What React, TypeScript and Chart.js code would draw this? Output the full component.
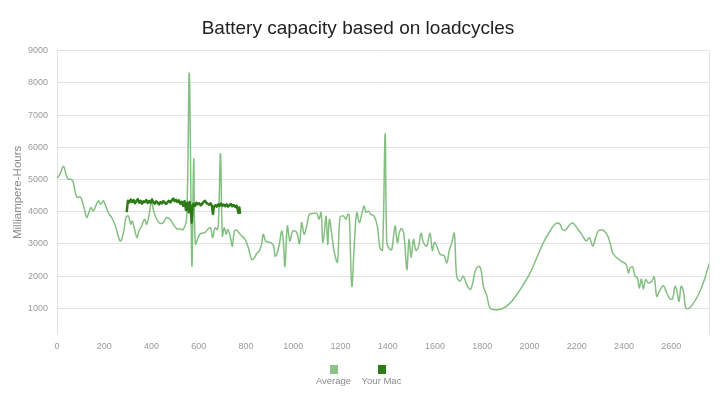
import React, { useEffect, useRef } from "react";
import { Chart, registerables } from "chart.js";

Chart.register(...registerables);

const chartTitle = "Battery capacity based on loadcycles";
const yAxisTitle = "Milliampere-Hours";
const seriesNames = ["Average", "Your Mac"];
const seriesColors = ["#84bf82", "#2d7b16"];
const legendBoxColors = ["#8dc38b", "#2d7b16"];

const yTicks = [1000, 2000, 3000, 4000, 5000, 6000, 7000, 8000, 9000];
const xTicks = [0, 200, 400, 600, 800, 1000, 1200, 1400, 1600, 1800, 2000, 2200, 2400, 2600];
const xMin = 0;
const xMax = 2760;
const yMin = 200;
const yMax = 9000;

const averageCycles = [
  0, 13, 27, 40, 48, 62, 69, 79, 87, 97, 104, 116, 126, 135, 144, 154, 175, 185, 196, 206,
  217, 231, 245, 257, 267, 274, 284, 292, 302, 312, 319, 330, 339, 347, 358, 370, 380, 389, 400, 410,
  422, 436, 450, 464, 478, 492, 507, 521, 535, 549, 560, 571, 579, 586, 605, 627, 641, 650, 659, 669,
  679, 684, 692, 700, 708, 716, 723, 733, 742, 751, 760, 775, 796, 810, 824, 835, 845, 856, 866, 873,
  883, 895, 905, 917, 923, 930, 941, 951, 958, 965, 975, 986, 998, 1015, 1026, 1036, 1046, 1057, 1068, 1085,
  1100, 1109, 1118, 1125, 1131, 1139, 1146, 1153, 1163, 1173, 1187, 1198, 1212, 1223, 1231, 1237, 1248, 1259, 1269, 1280,
  1290, 1300, 1308, 1318, 1328, 1342, 1356, 1367, 1378, 1389, 1396, 1407, 1417, 1431, 1441, 1449, 1459, 1469, 1481, 1490,
  1499, 1509, 1519, 1530, 1541, 1551, 1565, 1579, 1589, 1598, 1607, 1622, 1638, 1650, 1660, 1671, 1682, 1692, 1706, 1720,
  1734, 1749, 1760, 1770, 1784, 1794, 1805, 1819, 1833, 1854, 1883, 1918, 1946, 1974, 2003, 2031, 2059, 2087, 2108, 2127,
  2141, 2155, 2172, 2186, 2203, 2221, 2240, 2254, 2268, 2278, 2292, 2310, 2327, 2341, 2352, 2369, 2390, 2409, 2419, 2426,
  2437, 2447, 2457, 2465, 2474, 2482, 2492, 2503, 2518, 2528, 2539, 2553, 2567, 2581, 2595, 2606, 2616, 2623, 2633, 2642,
  2652, 2662, 2677, 2694, 2715, 2736, 2762,
];
const averageMah = [
  5040, 5170, 5410, 5120, 5015, 5000, 4910, 4550, 4440, 4470, 4390, 4080, 3820, 3975, 4130, 4025, 4340, 4235, 4340, 4180,
  3975, 3820, 3610, 3300, 3090, 3140, 3450, 3820, 3870, 3610, 3710, 3400, 3190, 3400, 3555, 3765, 3610, 3870, 4300, 4000,
  3765, 3640, 3660, 3820, 3765, 3610, 3470, 3460, 3450, 3800, 8300, 2330, 5640, 3000, 3300, 3360, 3475, 3500, 3190, 3500,
  3450, 3765, 5800, 3245, 3500, 3300, 3450, 3245, 2930, 3400, 3430, 3300, 3140, 2880, 2515, 2560, 2700, 2780, 2985, 3300,
  3090, 3060, 3040, 2935, 2620, 2670, 2985, 3400, 3090, 2300, 3555, 3090, 3400, 3350, 3000, 3660, 3300, 3555, 3920, 3945,
  3945, 3765, 3975, 3055, 3300, 3850, 2985, 3765, 3300, 2775, 2430, 3820, 3870, 3765, 3920, 3900, 1680, 3040, 3975, 3660,
  3920, 4180, 3975, 4025, 3920, 3870, 3555, 2880, 2800, 6420, 3040, 2850, 2820, 3555, 3040, 3350, 3475, 3250, 2200, 3140,
  2570, 3140, 2800, 2900, 3330, 3050, 2930, 3330, 2800, 3040, 2950, 2670, 2640, 2410, 2775, 3040, 3330, 1995, 1840, 1995,
  1735, 1580, 1790, 2150, 2300, 2225, 1680, 1400, 1005, 955, 975, 1160, 1420, 1735, 2100, 2570, 3040, 3400, 3610, 3630,
  3430, 3450, 3610, 3640, 3475, 3300, 3090, 3190, 2930, 3140, 3400, 3430, 3300, 3040, 2725, 2570, 2460, 2360, 2100, 2255,
  2285, 1995, 1950, 1630, 1910, 1600, 1890, 1790, 1840, 1975, 1370, 1580, 1700, 1475, 1290, 1300, 1680, 1580, 1210, 1680,
  1520, 1005, 1005, 1160, 1420, 1790, 2410,
];

const yourMacCycles = [
  295, 300, 306, 312, 318, 324, 330, 336, 342, 348, 354, 360, 366, 372, 378, 384, 390, 396, 402, 408,
  414, 420, 426, 432, 438, 444, 450, 456, 462, 468, 474, 480, 486, 492, 498, 504, 510, 516, 522, 528,
  534, 540, 546, 552, 558, 562, 566, 570, 574, 578, 584, 590, 596, 602, 608, 614, 620, 626, 632, 638,
  644, 650, 656, 660, 664, 670, 676, 682, 688, 694, 700, 706, 712, 718, 724, 730, 736, 742, 748, 754,
  760, 764, 768, 772, 775,
];
const yourMacMah = [
  3990, 4340, 4290, 4380, 4300, 4360, 4260, 4330, 4390, 4280, 4340, 4250, 4320, 4300, 4360, 4270, 4330, 4280, 4380, 4300,
  4250, 4320, 4280, 4230, 4300, 4260, 4330, 4280, 4240, 4300, 4340, 4290, 4350, 4410, 4330, 4370, 4300, 4350, 4250, 4310,
  4180, 4330, 4050, 4280, 3980, 4300, 4100, 3660, 4150, 4250, 4180, 4280, 4230, 4260, 4200, 4240, 4300, 4340, 4280, 4250,
  4220, 4260, 4180, 3930, 4150, 4200, 4160, 4230, 4180, 4250, 4190, 4220, 4170, 4230, 4160, 4200, 4240, 4170, 4210, 4150,
  4190, 4100, 3960, 4130, 3930,
];

const FONT = "'Liberation Sans', Arial, Helvetica, sans-serif";

const bottomLegend = {
  id: "bottomLegend",
  afterDraw(chart: any) {
    const ctx = chart.ctx;
    const centers = [chart.width / 2 - 30, chart.width / 2 + 18];
    ctx.save();
    chart.data.datasets.forEach((ds: any, i: number) => {
      const cx = centers[i];
      ctx.fillStyle = legendBoxColors[i];
      ctx.fillRect(Math.round(cx - 4), 365, 8, 9);
      ctx.font = `9.5px ${FONT}`;
      ctx.fillStyle = "#8a8a8a";
      ctx.textAlign = "center";
      ctx.textBaseline = "middle";
      ctx.fillText(ds.label, cx, 381);
    });
    ctx.restore();
  },
};

export default function App() {
  const canvasRef = useRef<HTMLCanvasElement | null>(null);

  useEffect(() => {
    document.body.style.margin = "0";
    const canvas = canvasRef.current;
    if (!canvas) return;
    const avgPoints = averageCycles.map((c, i) => ({ x: c, y: averageMah[i] }));
    const macPoints = yourMacCycles.map((c, i) => ({ x: c, y: yourMacMah[i] }));
    const chart = new Chart(canvas, {
      type: "line",
      data: {
        datasets: [
          {
            label: seriesNames[0],
            data: avgPoints,
            borderColor: seriesColors[0],
            backgroundColor: legendBoxColors[0],
            borderWidth: 1.5,
            pointRadius: 0,
            tension: 0.35,
            fill: false,
            order: 1,
          },
          {
            label: seriesNames[1],
            data: macPoints,
            borderColor: seriesColors[1],
            backgroundColor: legendBoxColors[1],
            borderWidth: 2.5,
            pointRadius: 0,
            tension: 0,
            borderJoinStyle: "round",
            fill: false,
            order: 0,
          },
        ],
      },
      options: {
        animation: false,
        responsive: false,
        maintainAspectRatio: false,
        layout: { padding: { left: 7, right: 18, top: 0, bottom: 33 } },
        plugins: {
          legend: { display: false },
          tooltip: { enabled: false },
          title: {
            display: true,
            text: chartTitle,
            color: "#222222",
            font: { family: FONT, size: 19, weight: "normal" },
            padding: { top: 17, bottom: 11 },
          },
        },
        scales: {
          x: {
            type: "linear",
            min: xMin,
            max: xMax,
            afterBuildTicks: (axis: any) => {
              axis.ticks = [...xTicks, xMax].map((v) => ({ value: v }));
            },
            ticks: {
              color: "#9a9a9a",
              font: { family: FONT, size: 9 },
              padding: 7,
              maxRotation: 0,
              autoSkip: false,
              callback: (v: any) => (v === xMax ? "" : String(v)),
            },
            grid: {
              drawTicks: false,
              color: (c: any) => (c.tick && c.tick.value === xMax ? "#e2e2e2" : "rgba(0,0,0,0)"),
            },
            border: { display: false },
            afterFit: (s: any) => {
              s.height = 30;
            },
          },
          y: {
            type: "linear",
            min: yMin,
            max: yMax,
            afterBuildTicks: (axis: any) => {
              axis.ticks = yTicks.map((v) => ({ value: v }));
            },
            ticks: {
              color: "#9a9a9a",
              font: { family: FONT, size: 9 },
              padding: 9,
              callback: (v: any) => String(v),
            },
            grid: { drawTicks: false, color: "#e2e2e2" },
            border: { display: true, color: "#e2e2e2" },
            title: {
              display: true,
              text: yAxisTitle,
              color: "#8a8a8a",
              font: { family: FONT, size: 11.5 },
              padding: { top: 4, bottom: 4 },
            },
            afterFit: (s: any) => {
              s.width = 50;
            },
          },
        },
      },
      plugins: [bottomLegend],
    });
    return () => chart.destroy();
  }, []);

  return (
    <div style={{ width: 727, height: 397 }}>
      <canvas ref={canvasRef} width={727} height={397} style={{ width: 727, height: 397 }} />
    </div>
  );
}
